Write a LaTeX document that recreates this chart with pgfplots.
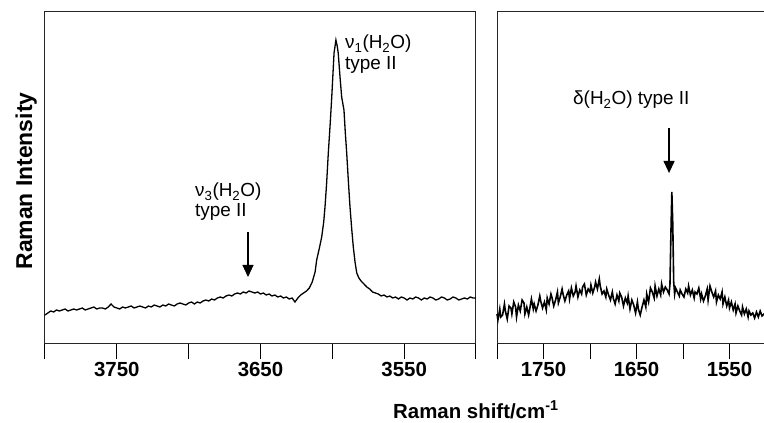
\documentclass[border=0pt]{standalone}
\usepackage{pgfplots}
\pgfplotsset{compat=1.18}
\usepackage{fontspec}
\setmainfont{Liberation Sans}
\usetikzlibrary{arrows.meta}
\pgfplotstableread{
x y
3800 29
3798 31
3796 33
3794 32
3792 34
3790 33
3788 34
3786 35
3784 33
3782 34
3780 35
3778 34
3776 35
3774 36
3772 34
3770 35
3768 36
3766 37
3764 35
3762 36
3760 36
3758 35
3756 37
3754 40
3752 37
3750 36
3748 35
3746 37
3744 36
3742 37
3740 38
3738 36
3736 37
3734 38
3732 37
3730 36
3728 38
3726 37
3724 39
3722 38
3720 37
3718 39
3716 38
3714 40
3712 39
3710 38
3708 40
3706 41
3704 40
3702 39
3700 41
3698 42
3696 40
3694 42
3692 41
3690 43
3688 44
3686 43
3684 45
3682 44
3680 46
3678 47
3676 46
3674 48
3672 49
3670 48
3668 50
3666 51
3664 50
3662 52
3660 51
3658 53
3656 52
3654 51
3652 52
3650 50
3648 51
3646 49
3644 50
3642 48
3640 49
3638 47
3636 48
3634 46
3632 47
3630 45
3628 46
3626 42
3624 46
3622 49
3620 51
3618 53
3616 56
3614 62
3612 72
3610.9 84
3609 96
3607.4 107
3606 122
3605.1 137
3604 160
3602.8 191
3601.5 220
3600.4 247
3599.5 272
3598.8 291
3597.5 304
3596.6 298
3595.9 291
3594.7 268
3593.5 247
3591.9 234
3591 212
3590 191
3588.8 162
3587.7 137
3586.5 115
3585.4 97
3584.2 82
3583 71
3581.5 66
3580 63
3578 60
3576 57
3574 55
3572 52
3570 51
3568 50
3566 48
3564 49
3562 47
3560 48
3558 46
3556 47
3554 45
3552 47
3550 46
3548 44
3546 46
3544 45
3542 47
3540 46
3538 44
3536 46
3534 45
3532 47
3530 46
3528 44
3526 45
3524 47
3522 46
3520 44
3518 45
3516 47
3514 46
3512 44
3510 45
3508 46
3506 45
3504 47
3502 46
3500 46
}\lefttable
\pgfplotstableread{
x y
1800 30
1799 24
1797 35
1796 27
1794 29
1792 40
1791 33
1789 25
1787 38
1785 36
1784 30
1782 42
1780 37
1779 27
1777 39
1775 33
1773 44
1771 41
1770 30
1768 37
1766 29
1765 34
1763 45
1761 35
1760 40
1758 33
1756 39
1754 48
1753 43
1751 36
1749 42
1747 34
1746 46
1744 40
1742 50
1741 47
1739 38
1737 44
1735 52
1734 41
1732 47
1730 55
1729 50
1727 43
1725 49
1723 53
1722 45
1720 56
1718 48
1716 52
1715 58
1713 47
1711 54
1709 50
1708 57
1706 60
1704 49
1702 55
1700 52
1699 59
1697 51
1695 57
1694 62
1692 55
1690 65
1689 58
1687 50
1685 53
1683 47
1682 55
1680 49
1678 44
1676 52
1675 46
1673 40
1671 49
1669 43
1668 51
1666 47
1664 38
1662 46
1660 41
1659 48
1657 35
1655 44
1653 39
1651 31
1649 42
1648 35
1646 29
1644 37
1642 44
1640 37
1639 50
1637 42
1635 56
1633 52
1631 46
1630 58
1628 48
1626 55
1624 49
1623 60
1621 52
1619 57
1617 54
1615 50
1614 60
1613 110
1612 152
1611 120
1610 62
1609 50
1608 56
1606 52
1604 48
1603 54
1601 50
1599 47
1597 55
1595 51
1594 58
1592 49
1590 54
1588 46
1587 52
1585 50
1583 56
1581 45
1580 50
1578 43
1576 48
1574 55
1573 44
1571 58
1569 52
1567 47
1565 53
1564 42
1562 49
1560 45
1558 52
1557 40
1555 47
1553 38
1551 44
1550 36
1548 42
1546 34
1544 40
1543 31
1541 38
1539 33
1537 29
1536 37
1534 30
1532 35
1530 27
1529 33
1527 29
1525 31
1523 26
1521 32
1519 27
1517 33
1515 28
1513 30
1512 29
}\righttable
\begin{document}
\begin{tikzpicture}
\useasboundingbox (0,0) rectangle (764bp,423bp);
\pgfplotsset{
  panel/.style={
    anchor=south west, scale only axis, height=332bp,
    ymin=0, ymax=332, ytick=\empty, x dir=reverse,
    tick align=outside, xtick pos=left,
    major tick length=15bp,
    tick style={line width=1bp, black},
    axis line style={line width=1bp, black!85},
    ticklabel style={font=\fontsize{20.5}{24}\selectfont\bfseries},
    clip=false,
  }
}
\begin{axis}[panel, at={(45bp,79bp)}, width=431bp,
  xmin=3500, xmax=3800,
  xtick={3500,3550,3600,3650,3700,3750,3800},
  xticklabels={,3550,,3650,,3750,}]
\addplot[black, line width=1.3bp] table[x=x,y=y] {\lefttable};
\node[anchor=base west, inner sep=0, font=\fontsize{19}{22}\selectfont] at (axis cs:3695.6,147) {ν\textsubscript{3}(H\textsubscript{2}O)};
\node[anchor=base west, inner sep=0, font=\fontsize{19}{22}\selectfont] at (axis cs:3695.6,127) {type II};
\node[anchor=base west, inner sep=0, font=\fontsize{19}{22}\selectfont] at (axis cs:3591.2,295) {ν\textsubscript{1}(H\textsubscript{2}O)};
\node[anchor=base west, inner sep=0, font=\fontsize{19}{22}\selectfont] at (axis cs:3591.2,274) {type II};
\draw[line width=1.2bp, -{Triangle[width=11bp,length=12bp]}] (axis cs:3658.7,112) -- (axis cs:3658.7,67);
\end{axis}
\begin{axis}[panel, at={(497bp,79bp)}, width=279bp,
  xmin=1500, xmax=1800,
  xtick={1500,1550,1600,1650,1700,1750,1800},
  xticklabels={,1550,,1650,,1750,}]
\addplot[black, line width=1.6bp] table[x=x,y=y] {\righttable};
\node[anchor=base west, inner sep=0, font=\fontsize{19}{22}\selectfont] at (axis cs:1718.3,239) {δ(H\textsubscript{2}O) type II};
\draw[line width=1.2bp, -{Triangle[width=11bp,length=12bp]}] (axis cs:1615,216) -- (axis cs:1615,171);
\end{axis}
\node[rotate=90, anchor=base, inner sep=0, font=\fontsize{23}{26}\selectfont\bfseries] at (32bp,242bp) {Raman Intensity};
\node[anchor=base west, inner sep=0, font=\fontsize{20.5}{24}\selectfont\bfseries] at (393bp,5bp) {Raman shift/cm\textsuperscript{-1}};
\end{tikzpicture}
\end{document}
